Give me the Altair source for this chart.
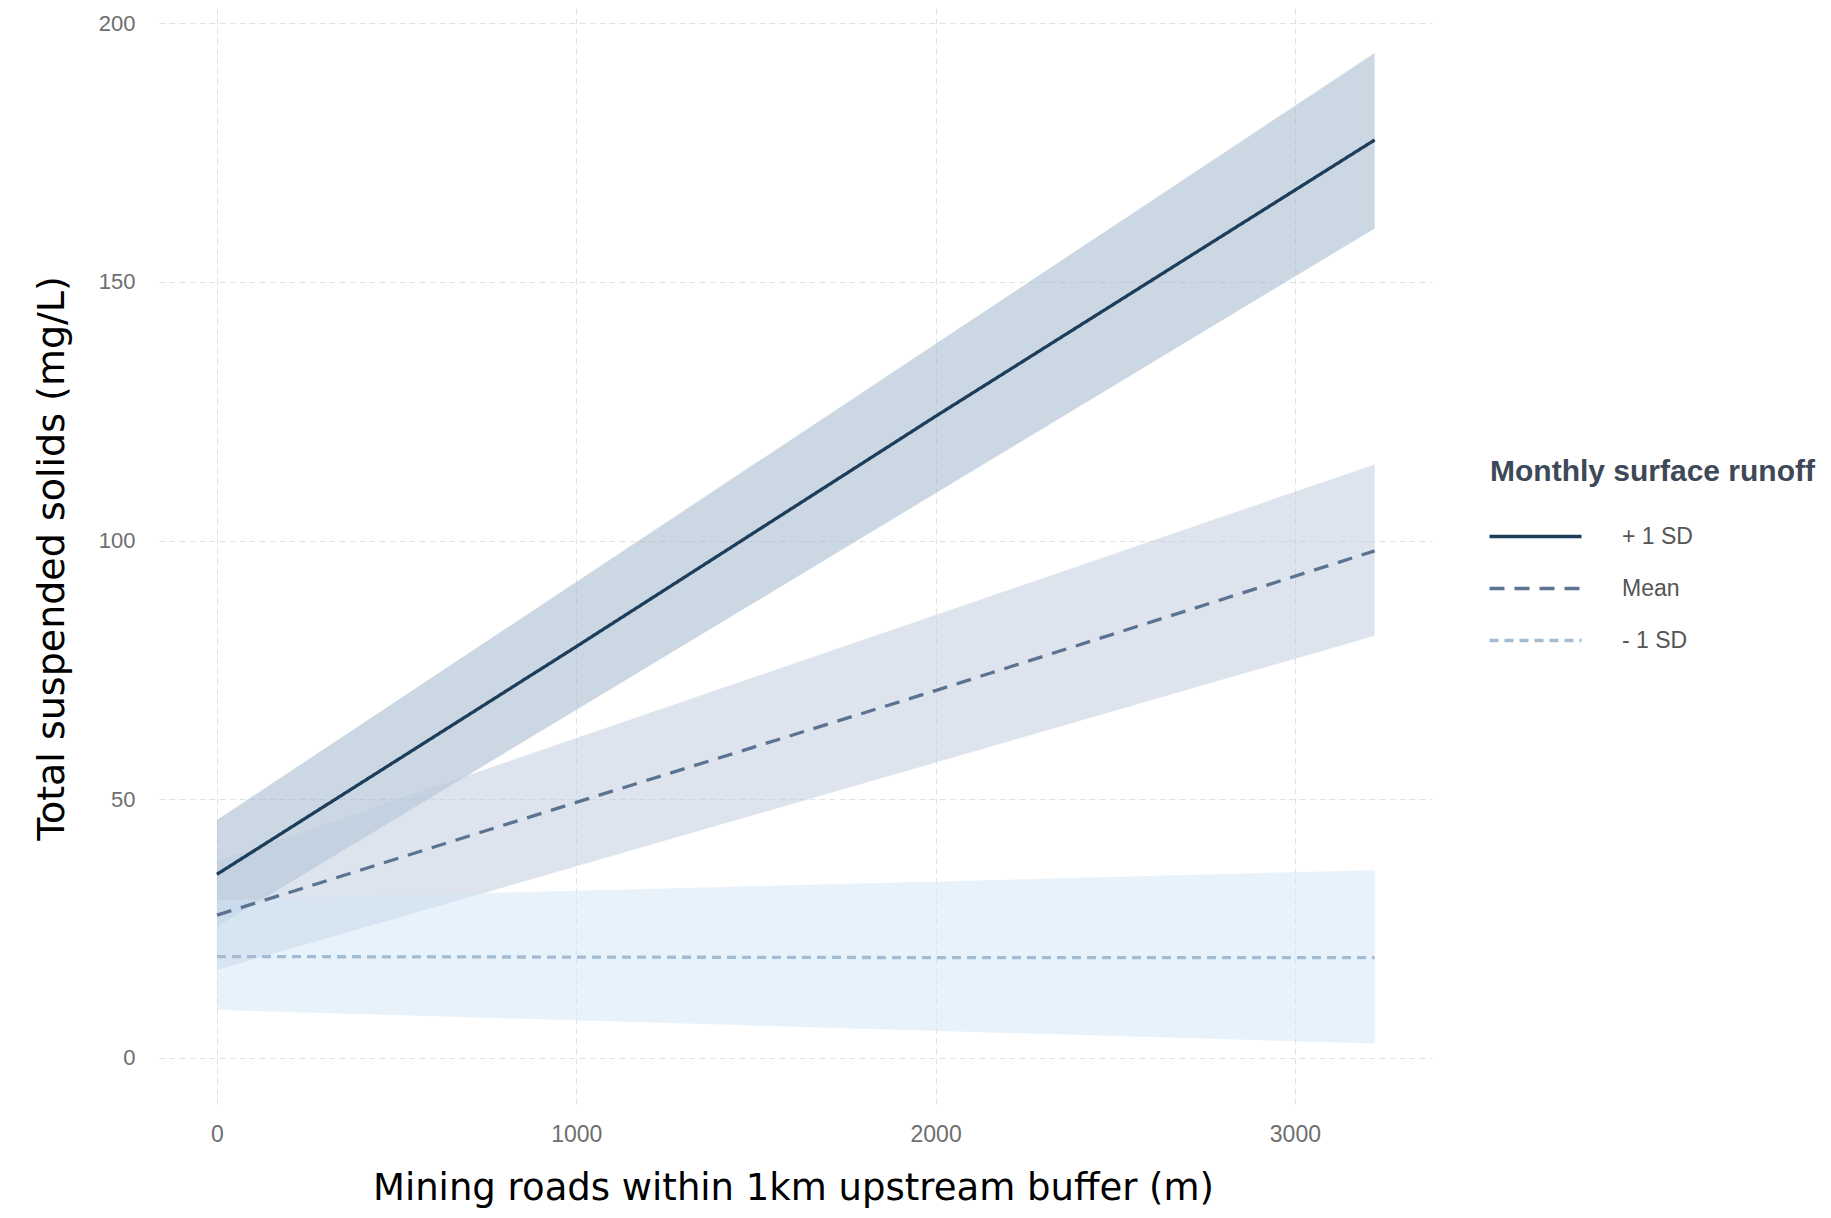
import altair as alt
import pandas as pd

# ---- data ----
series = ["+ 1 SD", "Mean", "- 1 SD"]

# confidence ribbons (straight edges, read at both ends)
band_x = [0, 3222]
band_lo_plus = [25.4, 160.3]
band_hi_plus = [46.0, 194.2]
band_lo_mean = [17.0, 81.6]
band_hi_mean = [38.0, 114.7]
band_lo_minus = [9.3, 2.8]
band_hi_minus = [30.5, 36.3]

# fitted lines
line_x = [0, 1000, 2000, 3222]
line_plus = [35.5, 79.5, 124.0, 177.4]
line_mean = [27.6, 49.4, 71.0, 98.0]
line_minus = [19.6, 19.5, 19.4, 19.4]

x_ticks = [0, 1000, 2000, 3000]
y_ticks = [0, 50, 100, 150, 200]

# ---- tables ----
bands = pd.DataFrame({
    "x": band_x * 3,
    "lo": band_lo_plus + band_lo_mean + band_lo_minus,
    "hi": band_hi_plus + band_hi_mean + band_hi_minus,
    "series": [series[0]] * 2 + [series[1]] * 2 + [series[2]] * 2,
})
lines = pd.DataFrame({
    "x": line_x * 3,
    "y": line_plus + line_mean + line_minus,
    "series": [series[0]] * 4 + [series[1]] * 4 + [series[2]] * 4,
})

line_colors = ["#1c3e5a", "#5b7390", "#a3bcd1"]
fill_colors = ["#97b1c7", "#bbc9dd", "#d1e5f7"]
dashes = [[1, 0], [15, 10], [9, 6]]

x_scale = alt.Scale(domain=[-161.4, 3381.6], nice=False, zero=False)
y_scale = alt.Scale(domain=[-8.89, 202.9], nice=False, zero=False)

x_axis = alt.Axis(
    values=x_ticks, format="d", title="Mining roads within 1km upstream buffer (m)",
    labelFont="Liberation Sans", labelFontSize=23, labelColor="#6e6e6e",
    labelPadding=19, ticks=False, domain=False,
    grid=True, gridColor="#e2e2e2", gridDash=[6, 4], gridWidth=1,
    titleFont="DejaVu Sans", titleFontSize=37, titleFontWeight="normal", titleColor="#000000",
    titleX=634, titleY=95, titleBaseline="alphabetic", titleAnchor="middle",
)
y_axis = alt.Axis(
    values=y_ticks, format="d", title="Total suspended solids (mg/L)",
    labelFont="Liberation Sans", labelFontSize=22, labelColor="#6e6e6e",
    labelPadding=24, ticks=False, domain=False,
    grid=True, gridColor="#e2e2e2", gridDash=[6, 4], gridWidth=1,
    titleFont="DejaVu Sans", titleFontSize=38, titleFontWeight="normal", titleColor="#000000",
    titleAngle=270, titleX=-107, titleY=550, titleBaseline="middle", titleAlign="center",
)

legend = alt.Legend(
    title="Monthly surface runoff", orient="none", legendX=1331, legendY=449,
    titleFont="Liberation Sans", titleFontSize=30, titleFontWeight="bold",
    titleColor="#3d4858", titleLimit=600, titlePadding=36,
    labelFont="Liberation Sans", labelFontSize=23, labelColor="#555555",
    labelOffset=73, labelLimit=300,
    symbolType="M-4,0L4,0", symbolSize=529, symbolStrokeWidth=3.5, symbolOffset=32,
    rowPadding=26,
)

# fill scale domain listed in reverse so it does not merge with the line legend
area = alt.Chart(bands).mark_area(opacity=0.5).encode(
    x=alt.X("x:Q", scale=x_scale, axis=x_axis),
    y=alt.Y("lo:Q", scale=y_scale, axis=y_axis),
    y2="hi:Q",
    fill=alt.Fill("series:N",
                  scale=alt.Scale(domain=series[::-1], range=fill_colors[::-1]),
                  legend=None),
)

line = alt.Chart(lines).mark_line(strokeWidth=3.3).encode(
    x=alt.X("x:Q", scale=x_scale, axis=x_axis),
    y=alt.Y("y:Q", scale=y_scale, axis=y_axis),
    stroke=alt.Stroke("series:N", scale=alt.Scale(domain=series, range=line_colors), legend=legend),
    strokeDash=alt.StrokeDash("series:N", scale=alt.Scale(domain=series, range=dashes), legend=legend),
)

chart = alt.layer(area, line).properties(
    width=1273, height=1096,
    autosize=alt.AutoSizeParams(type="none"),
    padding={"left": 151, "top": 0, "right": 391, "bottom": 106},
    background="white",
).configure_view(strokeWidth=0)

chart.save("out.html", embed_options={"renderer": "svg", "actions": False})
